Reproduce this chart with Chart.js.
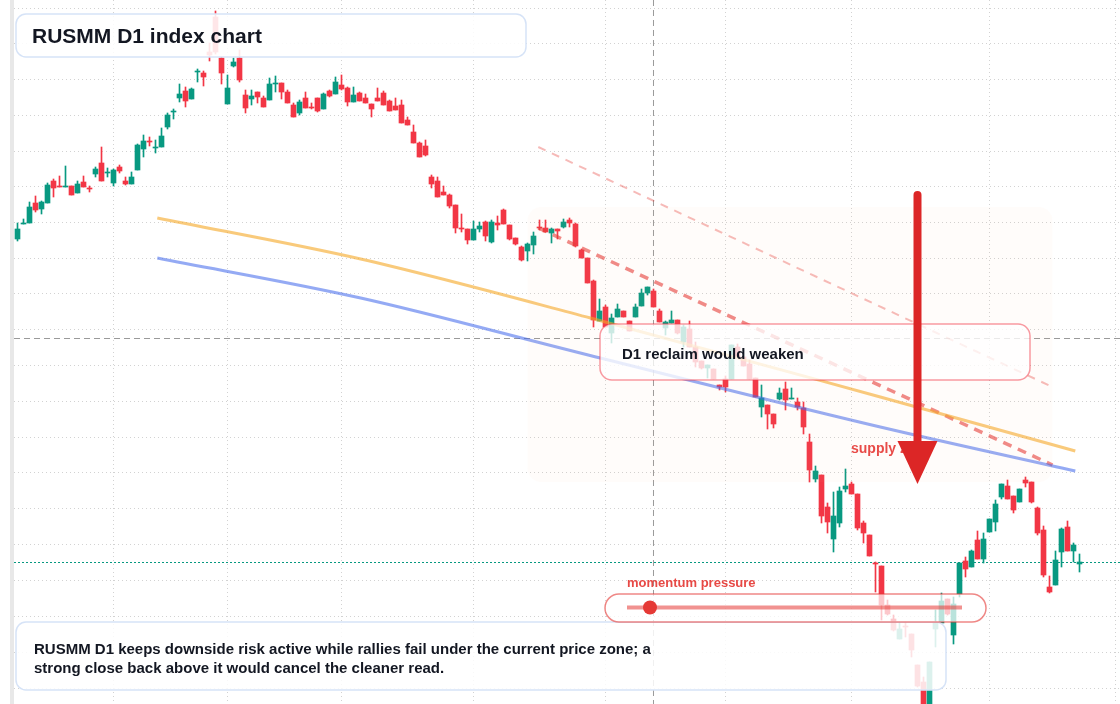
<!DOCTYPE html>
<html lang="en">
<head>
  <meta charset="UTF-8">
  <title>RUSMM D1 index chart</title>
  <script src="https://cdn.jsdelivr.net/npm/chart.js"></script>
  <style>
    html, body {
      margin: 0;
      padding: 0;
      background: #fff;
    }

    #wrap {
      width: 1120px;
      height: 704px;
    }
  </style>
</head>
<body>

<div id="wrap"><canvas id="chart" width="1120" height="704"></canvas></div>

<script>
  // daily candles, index 0 = first visible session
  const opens = [
    761, 776, 777, 797, 791, 797, 819, 814, 813, 814,
    807, 818, 812, 826, 837, 827, 817, 833, 819, 816,
    830, 851, 859, 852, 853, 873, 888, 902, 909, 901,
    928, 927, 948, 983, 942, 896, 934, 942, 905, 901,
    908, 902, 900, 916, 917, 908, 895, 887, 902, 893,
    902, 891, 909, 906, 915, 912, 898, 907, 902, 896,
    902, 907, 899, 894, 895, 880, 868, 857, 854, 823,
    819, 808, 805, 795, 772, 771, 760, 771, 778, 758,
    777, 790, 775, 762, 753, 749, 755, 773, 772, 767,
    771, 773, 780, 776, 750, 742, 719, 679, 693, 667,
    683, 689, 679, 683, 694, 707, 709, 689, 672, 677,
    680, 658, 671, 653, 639, 632, 631, 615, 621, 621,
    653, 643, 636, 622, 593, 595, 586, 601, 611, 601,
    598, 592, 558, 521, 525, 493, 461, 477, 511, 516,
    506, 477, 465, 437, 434, 395, 381, 361, 374, 366,
    335, 318, 282, 371, 377, 401, 365, 406, 439, 433,
    460, 441, 468, 478, 503, 514, 504, 498, 520, 518,
    492, 470, 413, 415, 448, 473, 449, 436
  ];
  const highs = [
    777, 781, 798, 804, 799, 817, 821, 824, 834, 814,
    819, 824, 814, 833, 853, 832, 831, 835, 823, 828,
    856, 865, 863, 860, 872, 887, 891, 916, 913, 912,
    931, 929, 957, 989, 943, 925, 942, 950, 910, 910,
    908, 904, 922, 924, 917, 910, 897, 900, 908, 897,
    902, 907, 910, 923, 925, 913, 913, 908, 906, 896,
    912, 909, 900, 902, 900, 883, 875, 858, 860, 825,
    823, 814, 806, 795, 786, 771, 779, 778, 779, 780,
    784, 791, 775, 762, 754, 757, 768, 780, 780, 772,
    771, 781, 782, 777, 751, 742, 720, 701, 695, 686,
    696, 689, 679, 696, 711, 713, 711, 691, 679, 689,
    680, 675, 679, 658, 639, 635, 631, 615, 624, 655,
    656, 643, 640, 622, 615, 595, 586, 612, 618, 612,
    602, 598, 566, 534, 525, 497, 508, 513, 531, 518,
    506, 479, 465, 438, 434, 400, 385, 378, 378, 366,
    335, 323, 338, 390, 407, 401, 403, 437, 443, 450,
    469, 467, 481, 500, 516, 520, 504, 511, 523, 518,
    493, 474, 424, 449, 472, 479, 457, 446
  ];
  const lows = [
    759, 776, 777, 788, 786, 797, 803, 813, 813, 805,
    807, 813, 808, 823, 819, 823, 814, 827, 815, 816,
    830, 843, 854, 847, 853, 871, 881, 898, 893, 901,
    918, 914, 939, 946, 916, 896, 933, 918, 887, 895,
    897, 893, 900, 908, 901, 897, 883, 885, 892, 891,
    888, 891, 903, 906, 910, 894, 898, 899, 897, 883,
    899, 895, 889, 890, 877, 875, 857, 843, 844, 812,
    803, 805, 792, 767, 768, 756, 760, 768, 759, 757,
    770, 776, 760, 755, 739, 739, 746, 770, 768, 757,
    761, 772, 773, 753, 742, 717, 673, 679, 673, 657,
    683, 683, 669, 683, 694, 705, 693, 678, 665, 677,
    666, 653, 653, 633, 631, 622, 621, 610, 608, 621,
    643, 634, 621, 603, 583, 571, 572, 600, 590, 601,
    590, 566, 518, 518, 477, 467, 448, 473, 508, 506,
    470, 457, 444, 408, 380, 385, 369, 361, 363, 343,
    313, 270, 275, 353, 377, 385, 356, 403, 423, 433,
    441, 437, 468, 469, 501, 501, 487, 498, 513, 497,
    465, 423, 407, 415, 433, 449, 438, 428
  ];
  const closes = [
    771, 777, 793, 790, 798, 815, 812, 813, 814, 805,
    816, 813, 811, 831, 819, 828, 830, 829, 816, 823,
    855, 859, 858, 853, 864, 885, 889, 906, 899, 911,
    929, 923, 945, 948, 927, 912, 938, 920, 892, 904,
    903, 893, 916, 917, 908, 897, 883, 898, 892, 892,
    889, 906, 904, 918, 911, 898, 905, 899, 897, 891,
    899, 895, 889, 890, 877, 875, 857, 843, 845, 816,
    803, 805, 794, 772, 771, 760, 771, 774, 764, 778,
    775, 776, 761, 756, 740, 756, 764, 772, 768, 771,
    769, 778, 777, 754, 742, 717, 680, 689, 673, 682,
    691, 683, 669, 693, 707, 713, 693, 678, 678, 680,
    667, 673, 653, 638, 632, 635, 621, 613, 613, 655,
    643, 634, 621, 603, 602, 586, 576, 607, 600, 602,
    593, 573, 530, 529, 484, 478, 484, 509, 514, 506,
    472, 467, 444, 436, 395, 386, 370, 371, 373, 350,
    314, 278, 338, 377, 399, 386, 396, 437, 431, 449,
    441, 461, 481, 496, 516, 501, 490, 511, 517, 498,
    467, 425, 408, 440, 471, 449, 455, 438
  ];

  // horizontal grid levels and month boundaries (candle index)
  const gridLevels = [992, 957, 921, 885, 849, 814, 778, 742, 707, 671, 635, 599, 563, 528, 492, 456, 420, 384, 348, 312];
  const monthTicks = [16, 35, 54, 76, 98, 118, 139, 162, 183];

  // moving averages
  const fastMaX = [23.3, 57.2, 95.5, 143.8, 176.3];
  const fastMaY = [782, 741, 682, 603, 549];
  const slowMaX = [23.3, 57.2, 93.8, 143.8, 176.3];
  const slowMaY = [742, 702, 647, 573, 529];

  // falling channel
  const channelX = [86.8, 172.5];
  const channelTop = [853, 613];
  const channelBottom = [772, 535];

  const lastPrice = 438;
  const crosshair = { x: 106, y: 662 };
  const supplyZone = { x0: 85, x1: 172.5, top: 793, bottom: 518 };
  const arrowShot = { x: 150, from: 805, head: 559, tip: 516 };

  const GREEN = '#089981';
  const RED = '#f23645';
  const candleColors = opens.map((o, i) => closes[i] >= o ? GREEN : RED);
  const idx = opens.map((_, i) => i);

  function roundRect(ctx, x, y, w, h, r) {
    ctx.beginPath();
    ctx.moveTo(x + r, y);
    ctx.lineTo(x + w - r, y);
    ctx.arcTo(x + w, y, x + w, y + r, r);
    ctx.lineTo(x + w, y + h - r);
    ctx.arcTo(x + w, y + h, x + w - r, y + h, r);
    ctx.lineTo(x + r, y + h);
    ctx.arcTo(x, y + h, x, y + h - r, r);
    ctx.lineTo(x, y + r);
    ctx.arcTo(x, y, x + r, y, r);
    ctx.closePath();
  }

  function box(ctx, x, y, w, h, r, fill, stroke) {
    roundRect(ctx, x, y, w, h, r);
    ctx.fillStyle = fill;
    ctx.fill();
    ctx.lineWidth = 1.5;
    ctx.strokeStyle = stroke;
    ctx.stroke();
  }

  const overlay = {
    id: 'overlay',
    beforeDatasetsDraw(chart) {
      const { ctx, chartArea: a, scales: { x, y } } = chart;
      ctx.save();

      ctx.fillStyle = '#e8e8e8';
      ctx.fillRect(10, 0, 4, chart.height);

      // dotted grid
      ctx.strokeStyle = '#d2d2d2';
      ctx.lineWidth = 1;
      ctx.setLineDash([1, 3]);
      gridLevels.forEach(v => {
        const py = Math.round(y.getPixelForValue(v)) + 0.5;
        ctx.beginPath();
        ctx.moveTo(a.left, py);
        ctx.lineTo(a.right, py);
        ctx.stroke();
      });
      monthTicks.forEach(v => {
        const px = x.getPixelForValue(v);
        ctx.beginPath();
        ctx.moveTo(px, a.top);
        ctx.lineTo(px, a.bottom);
        ctx.stroke();
      });

      // last price line
      ctx.strokeStyle = GREEN;
      ctx.setLineDash([2, 2]);
      const lp = Math.round(y.getPixelForValue(lastPrice)) + 0.5;
      ctx.beginPath();
      ctx.moveTo(a.left, lp);
      ctx.lineTo(a.right, lp);
      ctx.stroke();

      // crosshair
      ctx.strokeStyle = '#9a9a9a';
      ctx.setLineDash([6, 4]);
      const cx = x.getPixelForValue(crosshair.x);
      const cy = Math.round(y.getPixelForValue(crosshair.y)) + 0.5;
      ctx.beginPath();
      ctx.moveTo(cx, a.top);
      ctx.lineTo(cx, a.bottom);
      ctx.moveTo(a.left, cy);
      ctx.lineTo(a.right, cy);
      ctx.stroke();
      ctx.restore();
    },
    afterDatasetsDraw(chart) {
      const { ctx, scales: { x, y } } = chart;
      ctx.save();

      // supply zone shade
      const zx0 = x.getPixelForValue(supplyZone.x0);
      const zx1 = x.getPixelForValue(supplyZone.x1);
      const zy0 = y.getPixelForValue(supplyZone.top);
      const zy1 = y.getPixelForValue(supplyZone.bottom);
      roundRect(ctx, zx0, zy0, zx1 - zx0, zy1 - zy0, 14);
      ctx.fillStyle = 'rgba(245, 190, 150, 0.045)';
      ctx.fill();

      // title
      box(ctx, 16, 14, 510, 43, 10, 'rgba(255,255,255,0.88)', '#d6e3f7');
      ctx.fillStyle = '#131722';
      ctx.textBaseline = 'middle';
      ctx.font = 'bold 21px "Liberation Sans", Arial, sans-serif';
      ctx.fillText('RUSMM D1 index chart', 32, 37);

      // reclaim note
      box(ctx, 600, 324, 430, 56, 12, 'rgba(255,255,255,0.78)', 'rgba(242,54,69,0.5)');
      ctx.fillStyle = '#131722';
      ctx.font = 'bold 15px "Liberation Sans", Arial, sans-serif';
      ctx.fillText('D1 reclaim would weaken', 622, 354.5);

      // summary
      box(ctx, 16, 622, 930, 68, 10, 'rgba(255,255,255,0.86)', '#d6e3f7');
      ctx.fillStyle = '#131722';
      ctx.fillText('RUSMM D1 keeps downside risk active while rallies fail under the current price zone; a', 34, 649.5);
      ctx.fillText('strong close back above it would cancel the cleaner read.', 34, 668.5);

      // momentum pill
      box(ctx, 605, 594, 381, 28, 14, 'rgba(255,255,255,0.72)', 'rgba(229,57,53,0.6)');
      ctx.strokeStyle = 'rgba(229,57,53,0.55)';
      ctx.lineWidth = 4;
      ctx.beginPath();
      ctx.moveTo(627, 607.5);
      ctx.lineTo(962, 607.5);
      ctx.stroke();
      ctx.fillStyle = '#e53935';
      ctx.beginPath();
      ctx.arc(650, 607.5, 7, 0, Math.PI * 2);
      ctx.fill();
      ctx.font = 'bold 13px "Liberation Sans", Arial, sans-serif';
      ctx.fillStyle = 'rgba(229,57,53,0.92)';
      ctx.fillText('momentum pressure', 627, 583);

      // supply zone label
      ctx.font = 'bold 14px "Liberation Sans", Arial, sans-serif';
      ctx.fillStyle = 'rgba(229,57,53,0.9)';
      ctx.fillText('supply zone', 851, 449);

      // arrow
      const ax = x.getPixelForValue(arrowShot.x);
      const ay0 = y.getPixelForValue(arrowShot.from);
      const ay1 = y.getPixelForValue(arrowShot.head);
      const ay2 = y.getPixelForValue(arrowShot.tip);
      ctx.strokeStyle = '#dc2626';
      ctx.fillStyle = '#dc2626';
      ctx.lineWidth = 8;
      ctx.lineCap = 'round';
      ctx.beginPath();
      ctx.moveTo(ax, ay0);
      ctx.lineTo(ax, ay1 + 4);
      ctx.stroke();
      ctx.beginPath();
      ctx.moveTo(ax - 20, ay1);
      ctx.lineTo(ax + 20, ay1);
      ctx.lineTo(ax, ay2);
      ctx.closePath();
      ctx.fill();
      ctx.restore();
    }
  };

  const ctx = document.getElementById('chart').getContext('2d');

  new Chart(ctx, {
    type: 'bar',
    data: {
      datasets: [
        {
          type: 'line',
          label: 'fast MA',
          data: fastMaX.map((v, i) => ({ x: v, y: fastMaY[i] })),
          borderColor: 'rgba(245,166,35,0.6)',
          borderWidth: 3,
          pointRadius: 0,
          cubicInterpolationMode: 'monotone',
          order: 1
        },
        {
          type: 'line',
          label: 'slow MA',
          data: slowMaX.map((v, i) => ({ x: v, y: slowMaY[i] })),
          borderColor: 'rgba(60,100,235,0.55)',
          borderWidth: 3,
          pointRadius: 0,
          cubicInterpolationMode: 'monotone',
          order: 1
        },
        {
          type: 'line',
          label: 'channel top',
          data: channelX.map((v, i) => ({ x: v, y: channelTop[i] })),
          borderColor: 'rgba(229,57,53,0.35)',
          borderWidth: 2,
          borderDash: [8, 7],
          pointRadius: 0,
          order: 1
        },
        {
          type: 'line',
          label: 'channel bottom',
          data: channelX.map((v, i) => ({ x: v, y: channelBottom[i] })),
          borderColor: 'rgba(229,57,53,0.6)',
          borderWidth: 3.5,
          borderDash: [9, 7],
          pointRadius: 0,
          order: 1
        },
        {
          label: 'body',
          data: idx.map(i => ({ x: i, y: [opens[i], closes[i]] })),
          backgroundColor: candleColors,
          barThickness: 5,
          minBarLength: 1,
          grouped: false,
          order: 2
        },
        {
          label: 'wick',
          data: idx.map(i => ({ x: i, y: [lows[i], highs[i]] })),
          backgroundColor: candleColors,
          barThickness: 1,
          grouped: false,
          order: 3
        }
      ]
    },
    options: {
      responsive: false,
      animation: false,
      layout: {
        padding: { left: 14, right: 0, top: 0, bottom: 0 }
      },
      plugins: {
        legend: { display: false },
        tooltip: { enabled: false }
      },
      scales: {
        x: {
          type: 'linear',
          min: -0.5833,
          max: 183.75,
          offset: false,
          display: false
        },
        y: {
          min: 296,
          max: 1000,
          beginAtZero: false,
          display: false
        }
      }
    },
    plugins: [overlay]
  });
</script>

</body>
</html>
